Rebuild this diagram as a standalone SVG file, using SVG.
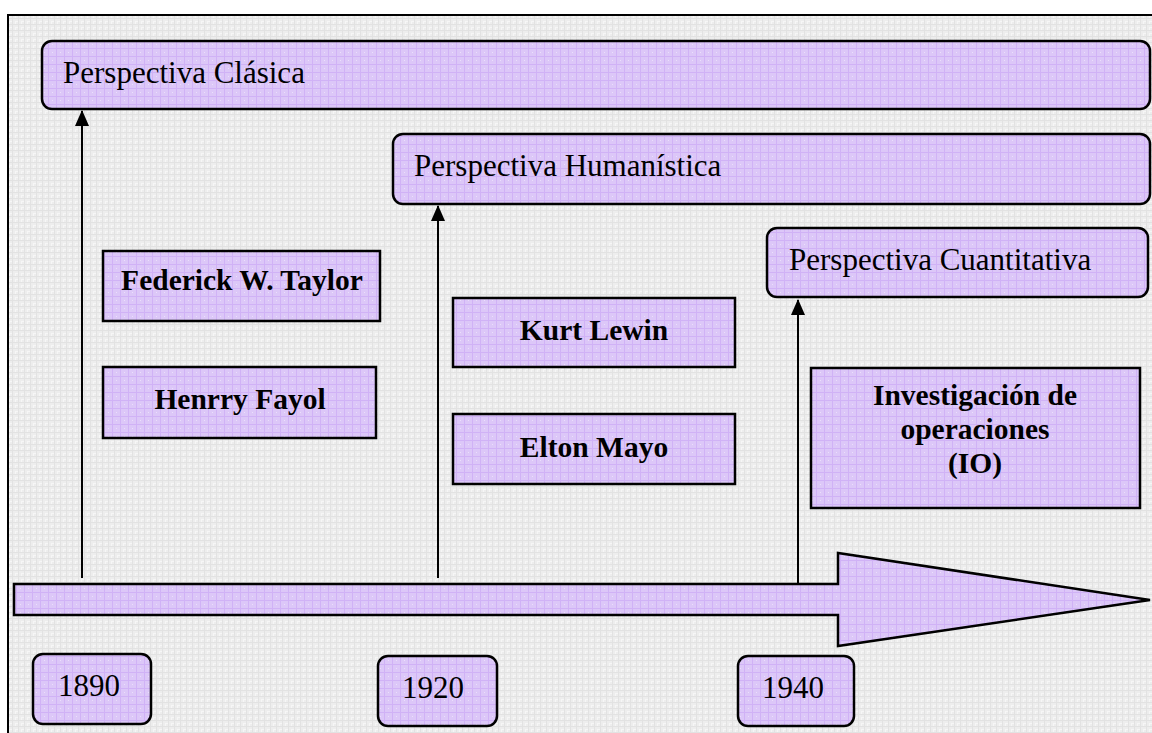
<svg xmlns="http://www.w3.org/2000/svg" width="1152" height="733" viewBox="0 0 1152 733">
  <defs>
    <pattern id="bgGrid" width="6" height="6" patternUnits="userSpaceOnUse">
      <rect width="6" height="6" fill="#ededed"/>
      <path d="M0 0.5H6M0.5 0V6" stroke="#e2e2e2" stroke-width="1"/>
      <path d="M3 3.5H6M3.5 3V6" stroke="#f6f6f6" stroke-width="1"/>
    </pattern>
    <pattern id="lilac" width="8" height="8" patternUnits="userSpaceOnUse">
      <rect width="8" height="8" fill="#dcc7f8"/>
      <path d="M0 0.5H8M0.5 0V8" stroke="#d0b2f6" stroke-width="1"/>
      <path d="M4 4.5H5" stroke="#ebdffb" stroke-width="1"/>
    </pattern>
    <marker id="tip" viewBox="0 0 16 14" refX="15" refY="7" markerWidth="16" markerHeight="14" markerUnits="userSpaceOnUse" orient="auto">
      <path d="M0 0L16 7L0 14Z" fill="#000"/>
    </marker>
    <style>
      .era { fill: url(#lilac); stroke: #000; stroke-width: 2.5; }
      .who { fill: url(#lilac); stroke: #000; stroke-width: 2.5; }
      .lbl { font-family: "Liberation Serif", "Times New Roman", serif; font-size: 31px; fill: #000; }
      .name { font-family: "Liberation Serif", "Times New Roman", serif; font-size: 29.5px; font-weight: bold; fill: #000; text-anchor: middle; }
      .link { stroke: #000; stroke-width: 2; fill: none; marker-end: url(#tip); }
    </style>
  </defs>

  <!-- page background with frame -->
  <rect x="0" y="0" width="1152" height="733" fill="#ffffff"/>
  <rect x="8" y="15" width="1150" height="725" fill="url(#bgGrid)"/>
  <path d="M8 733V15H1152" stroke="#000" stroke-width="2" fill="none"/>

  <!-- timeline arrow -->
  <g id="timeline">
    <path class="era" d="M14 584H838V553L1150 600L838 646V615H14Z"/>
  </g>

  <!-- connectors from years to perspectives -->
  <g id="connectors">
    <line class="link" x1="82" y1="578" x2="82" y2="111"/>
    <line class="link" x1="438" y1="578" x2="438" y2="206"/>
    <line class="link" x1="798" y1="584" x2="798" y2="300"/>
  </g>

  <g id="perspectiva-clasica">
    <rect class="era" x="42" y="41" width="1108" height="68" rx="10"/>
    <text class="lbl" x="63" y="83">Perspectiva Clásica</text>
  </g>
  <g id="perspectiva-humanistica">
    <rect class="era" x="393" y="134" width="757" height="70" rx="10"/>
    <text class="lbl" x="414" y="176">Perspectiva Humanística</text>
  </g>
  <g id="perspectiva-cuantitativa">
    <rect class="era" x="767" y="228" width="381" height="69" rx="10"/>
    <text class="lbl" x="789" y="270">Perspectiva Cuantitativa</text>
  </g>

  <g id="taylor">
    <rect class="who" x="103" y="251" width="277" height="70"/>
    <text class="name" x="242" y="290">Federick W. Taylor</text>
  </g>
  <g id="fayol">
    <rect class="who" x="103" y="367" width="273" height="71"/>
    <text class="name" x="240" y="409">Henrry Fayol</text>
  </g>
  <g id="lewin">
    <rect class="who" x="453" y="298" width="282" height="69"/>
    <text class="name" x="594" y="340">Kurt Lewin</text>
  </g>
  <g id="mayo">
    <rect class="who" x="453" y="414" width="282" height="70"/>
    <text class="name" x="594" y="457">Elton Mayo</text>
  </g>
  <g id="io">
    <rect class="who" x="811" y="368" width="329" height="140"/>
    <text class="name" x="975" y="405">Investigación de</text>
    <text class="name" x="975" y="439">operaciones</text>
    <text class="name" x="975" y="473">(IO)</text>
  </g>

  <g id="y1890">
    <rect class="era" x="33" y="654" width="118" height="70" rx="10"/>
    <text class="lbl" x="58" y="696">1890</text>
  </g>
  <g id="y1920">
    <rect class="era" x="378" y="656" width="119" height="70" rx="10"/>
    <text class="lbl" x="402" y="698">1920</text>
  </g>
  <g id="y1940">
    <rect class="era" x="738" y="656" width="116" height="70" rx="10"/>
    <text class="lbl" x="762" y="698">1940</text>
  </g>
</svg>
